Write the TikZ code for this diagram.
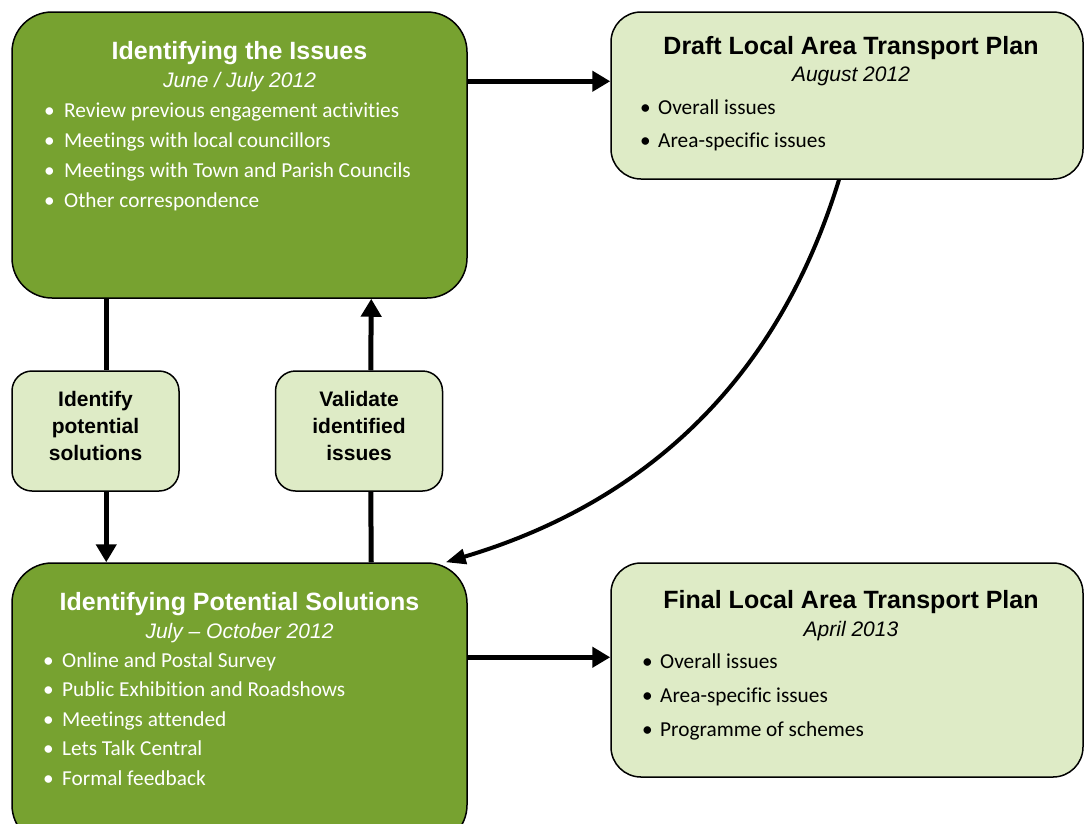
\documentclass[tikz,border=0pt]{standalone}
\usepackage{fontspec}
\setmainfont{Carlito}[Ligatures={TeX,NoCommon}]
\newfontfamily\arialfont{Liberation Sans}[Ligatures={TeX,NoCommon}]
\usetikzlibrary{arrows.meta,calc}

\definecolor{stagegreen}{RGB}{119,162,48}
\definecolor{plangreen}{RGB}{222,235,198}

\tikzset{
  stagebox/.style={draw=black, line width=1.5pt, fill=stagegreen, rounded corners=40pt, inner sep=0pt},
  planbox/.style={draw=black, line width=1.5pt, fill=plangreen, rounded corners=30pt, inner sep=0pt},
  stepnote/.style={draw=black, line width=1.5pt, fill=plangreen, rounded corners=20pt,
    minimum width=167pt, minimum height=120pt},
  steptext/.style={align=center, inner sep=0pt, font=\arialfont\bfseries\fontsize{21}{27}\selectfont},
  boxtitle/.style={anchor=base, inner sep=0pt, font=\arialfont\bfseries\fontsize{25}{30}\selectfont},
  boxdate/.style={anchor=base, inner sep=0pt, font=\arialfont\itshape\fontsize{21}{25}\selectfont},
  listitem/.style={anchor=base west, inner sep=0pt, font=\fontsize{21.3}{25}\selectfont},
  flow/.style={line width=5pt, -{Triangle[length=18pt,width=20pt]}},
  plainflow/.style={line width=5pt},
}

\begin{document}
\begin{tikzpicture}[x=1pt,y=1pt,yscale=-1]
\useasboundingbox (0,0) rectangle (1085,823);
\clip (0,0) rectangle (1085,823);

% stages
\node[stagebox, minimum width=455pt, minimum height=286pt] (issues) at (239.5,155) {};
\node[stagebox, minimum width=455pt, minimum height=282pt] (solutions) at (239.5,704) {};

% plans
\node[planbox, minimum width=472pt, minimum height=167pt] (draft) at (847,95.5) {};
\node[planbox, minimum width=472pt, minimum height=214pt] (final) at (847,670) {};

% steps between the stages
\node[stepnote] (identify) at (95.5,431) {};
\node[steptext] (identifytext) at (95.5,426) {Identify\\potential\\solutions};
\node[stepnote] (validate) at (359,431) {};
\node[steptext] (validatetext) at (359,426) {Validate\\identified\\issues};

% Identifying the Issues
\node[boxtitle, text=white] (issuestitle) at (239.5,59) {Identifying the Issues};
\node[boxdate, text=white] (issuesdate) at (239.5,87) {June / July 2012};
\foreach \txt [count=\i] in {Review previous engagement activities, Meetings with local councillors,
    Meetings with Town and Parish Councils, Other correspondence}
  \node[listitem, text=white] (issues-\i) at (44,87+30*\i) {\makebox[20pt][l]{\textbullet}\txt};

% Identifying Potential Solutions
\node[boxtitle, text=white] (solutionstitle) at (239.5,610) {Identifying Potential Solutions};
\node[boxdate, text=white] (solutionsdate) at (239.5,638) {July \textendash{} October 2012};
\foreach \txt [count=\i] in {Online and Postal Survey, Public Exhibition and Roadshows,
    Meetings attended, Lets Talk Central, Formal feedback}
  \node[listitem, text=white] (solutions-\i) at (43,637.5+29.5*\i) {\makebox[19pt][l]{\textbullet}\txt};

% Draft plan
\node[boxtitle] (drafttitle) at (851,54) {Draft Local Area Transport Plan};
\node[boxdate] (draftdate) at (851,81) {August 2012};
\foreach \txt [count=\i] in {Overall issues, Area-specific issues}
  \node[listitem] (draft-\i) at (640,81+33*\i) {\makebox[18pt][l]{\textbullet}\txt};

% Final plan
\node[boxtitle] (finaltitle) at (851,608) {Final Local Area Transport Plan};
\node[boxdate] (finaldate) at (851,636) {April 2013};
\foreach \txt [count=\i] in {Overall issues, Area-specific issues, Programme of schemes}
  \node[listitem] (final-\i) at (642,634+34*\i) {\makebox[18pt][l]{\textbullet}\txt};

% connectors
\draw[flow] ($(issues.north east)+(0,70)$) -- ($(draft.north west)+(0,70)$);
\draw[flow] ($(solutions.north east)+(0,95)$) -- ($(final.north west)+(0,95)$);
\draw[plainflow] ($(issues.south west)+(95,0)$) -- ($(identify.north west)+(95,0)$);
\draw[flow] ($(identify.south west)+(95,0)$) -- ($(solutions.north west)+(95,0)$);
\draw[plainflow] ($(validate.south west)+(96,0)$) -- ($(solutions.north west)+(360,0)$);
\draw[flow] ($(validate.north west)+(96,0)$) -- ($(issues.south west)+(360,0)$);
\draw[line width=4pt, -{Triangle[length=20pt,width=15pt]}] ($(draft.south)+(-8,0)$)
  .. controls +(-34,110) and +(275,-82) .. ($(solutions.north east)+(-22,0)$);
\end{tikzpicture}
\end{document}
